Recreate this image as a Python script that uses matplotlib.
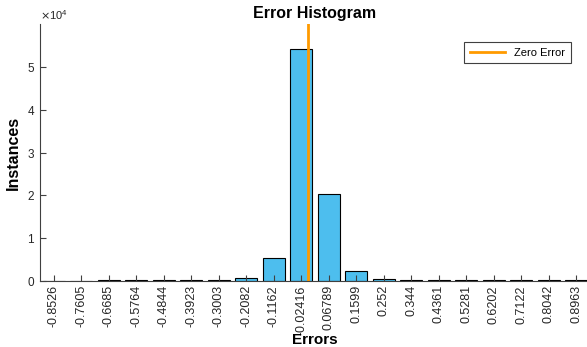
import numpy as np
import matplotlib.pyplot as plt
from matplotlib.ticker import ScalarFormatter

plt.rcParams['font.family'] = ['Liberation Sans', 'DejaVu Sans']

# bin centres (as shown on the x axis) and instance counts
bin_labels = ['-0.8526', '-0.7605', '-0.6685', '-0.5764', '-0.4844', '-0.3923',
              '-0.3003', '-0.2082', '-0.1162', '-0.02416', '0.06789', '0.1599',
              '0.252', '0.344', '0.4361', '0.5281', '0.6202', '0.7122', '0.8042',
              '0.8963']
centers = [float(s) for s in bin_labels]
counts = [0, 0, 160, 170, 170, 170, 170, 750, 5300, 54200, 20300, 2350,
          450, 150, 140, 140, 140, 140, 140, 140]

bar_color = '#4DBEEE'
zero_color = '#FF9A00'
axis_color = '#404040'

fig = plt.figure(figsize=(5.87, 3.47), dpi=100)
ax = fig.add_axes([0.068, 0.19, 0.937, 0.741])

idx = np.arange(len(counts))
ax.bar(idx, counts, width=0.8, color=bar_color, edgecolor='black', linewidth=0.8)

# zero error line, placed on the index scale by interpolating bin centres
zero_x = np.interp(0.0, centers, idx)
ax.axvline(zero_x, color=zero_color, linewidth=2, label='Zero Error')

ax.set_xlim(-0.5, len(counts) - 0.5)
ax.set_ylim(0, 6e4)
ax.set_yticks([0, 1e4, 2e4, 3e4, 4e4, 5e4])
ax.set_xticks(idx)
ax.set_xticklabels(bin_labels, rotation=90)

fmt = ScalarFormatter(useMathText=True)
fmt.set_powerlimits((0, 0))
ax.yaxis.set_major_formatter(fmt)
ax.yaxis.get_offset_text().set_fontsize(8)
ax.yaxis.get_offset_text().set_color('#404040')

ax.tick_params(axis='both', direction='in', length=4, width=0.8,
               colors=axis_color, labelsize=8.5, labelcolor='#262626')
ax.tick_params(axis='x', labelsize=9, pad=3)

for side in ['top', 'right']:
    ax.spines[side].set_visible(False)
for side in ['left', 'bottom']:
    ax.spines[side].set_color(axis_color)
    ax.spines[side].set_linewidth(0.8)

ax.set_title('Error Histogram', fontsize=11.5, fontweight='bold', pad=4)
ax.set_xlabel('Errors', fontsize=11, fontweight='bold', labelpad=-1)
ax.set_ylabel('Instances', fontsize=11.5, fontweight='bold', labelpad=4)

leg = ax.legend(loc='upper right', bbox_to_anchor=(0.982, 0.895),
                bbox_transform=fig.transFigure, fontsize=8, fancybox=False,
                handlelength=3.2, borderpad=0.5, framealpha=1)
leg.get_frame().set_edgecolor('#404040')
leg.get_frame().set_linewidth(0.8)

fig.savefig('out.png', dpi=100)
